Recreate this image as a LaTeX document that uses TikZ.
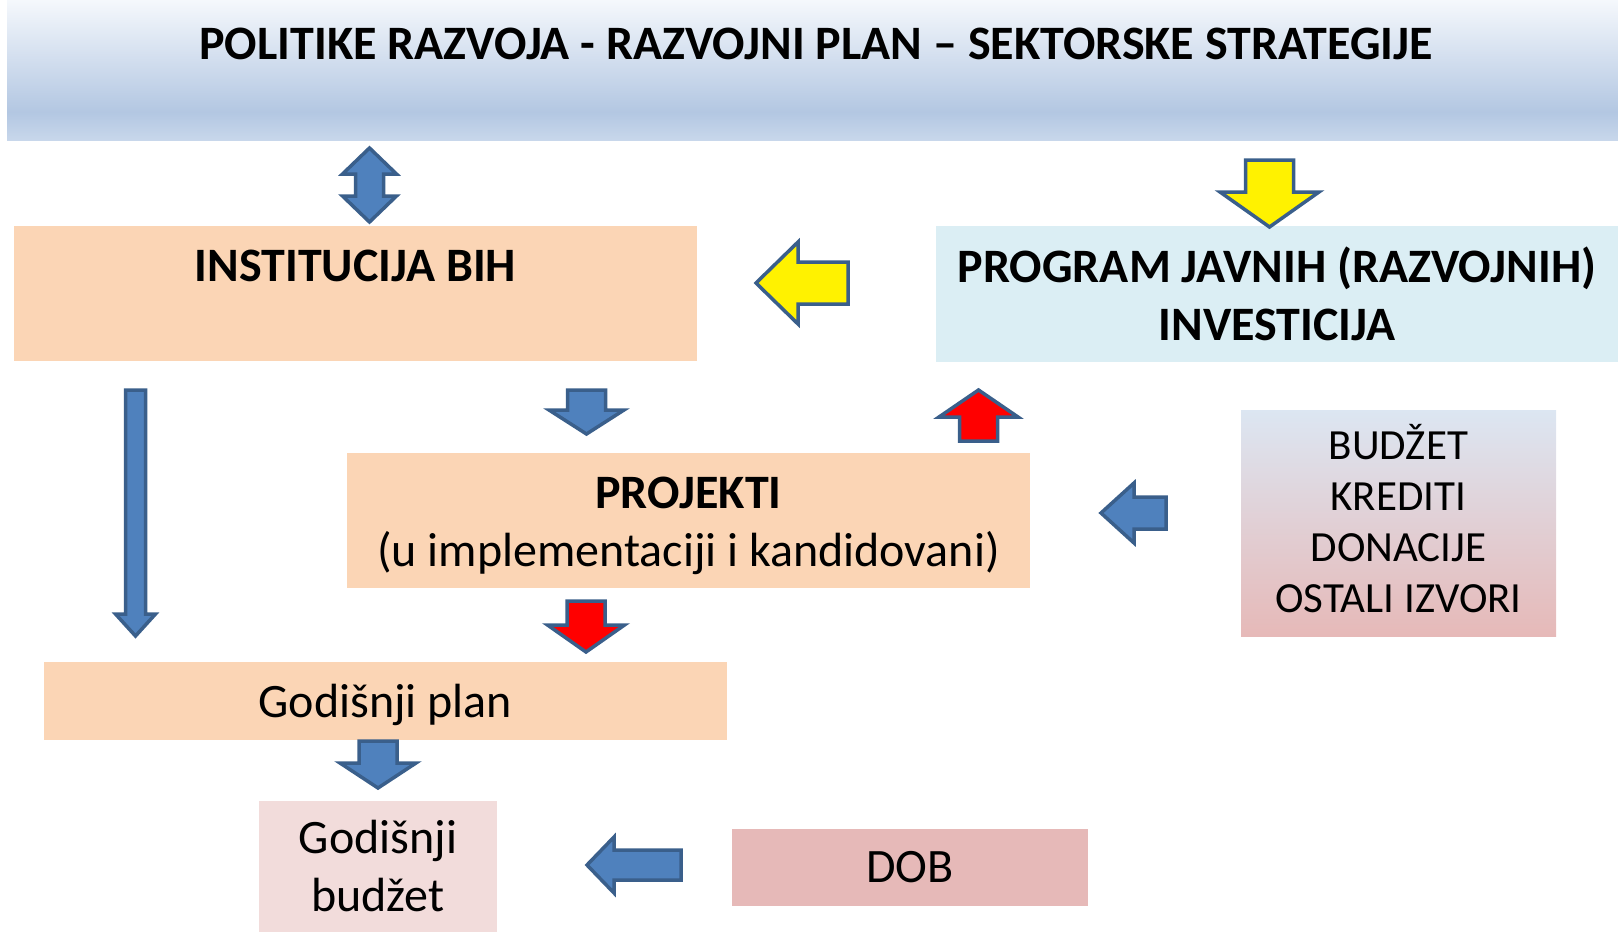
\documentclass[tikz,border=0pt]{standalone}
\usepackage{fontspec}
\setmainfont{Carlito}
\definecolor{boxorange}{HTML}{FBD5B5}
\definecolor{boxcyan}{HTML}{DBEEF4}
\definecolor{boxpink}{HTML}{F2DCDB}
\definecolor{boxrose}{HTML}{E6B9B8}
\definecolor{srctop}{HTML}{DCE6F2}
\definecolor{bantop}{HTML}{F5F8FC}
\definecolor{banmid}{HTML}{B3C7E2}
\definecolor{banbot}{HTML}{C8D7EB}
\definecolor{arrblue}{HTML}{4F81BD}
\definecolor{arredge}{HTML}{3A5F8B}
% tip, direction, length, head length, head half width, shaft half width
\newcommand{\blkarrow}[7]{%
  \draw[myarrow,fill=#1,shift={(#2)},rotate=#3]
    (0,0) -- (-#5,#6) -- (-#5,#7) -- (-#4,#7) -- (-#4,-#7)
    -- (-#5,-#7) -- (-#5,-#6) -- cycle;}

\begin{document}
\begin{tikzpicture}[x=1pt,y=-1pt]
	\tikzset{mybox/.style={rectangle,inner sep=0pt,align=center,
			font=\fontsize{48}{58}\selectfont},
		myarrow/.style={draw=arredge,line width=3.5pt,line join=miter}}
	\useasboundingbox (0,0) rectangle (1618,932);
	% banner
	\shade[top color=bantop,bottom color=banmid] (7,0) rectangle (1618,112);
	\shade[top color=banmid,bottom color=banbot] (7,112) rectangle (1618,140);
	\node[mybox,font=\fontsize{48}{58}\selectfont\bfseries] (title) at (816,44)
	{POLITIKE RAZVOJA - RAZVOJNI PLAN -- SEKTORSKE STRATEGIJE};
	% boxes
	\node[mybox,fill=boxorange,minimum width=683,minimum height=135] (inst) at (355.5,293.5) {};
	\node[mybox,font=\fontsize{48}{58}\selectfont\bfseries] (insttext) at (355.5,266) {INSTITUCIJA BIH};
	\node[mybox,fill=boxcyan,minimum width=682,minimum height=136,
	font=\fontsize{48}{58}\selectfont\bfseries] (pji) at (1277,294)
	{PROGRAM JAVNIH (RAZVOJNIH)\\INVESTICIJA};
	\node[mybox,fill=boxorange,minimum width=683,minimum height=135] (proj) at (688.5,520.5) {};
	\node[mybox] (projtext) at (688.5,526)
	{\textbf{PROJEKTI}\\(u implementaciji i kandidovani)};
	\node[mybox,top color=srctop,bottom color=boxrose,minimum width=315,minimum height=226] (src) at (1398.5,523) {};
	\node[mybox,font=\fontsize{43}{51}\selectfont] (srctext) at (1398.5,519)
	{BUDŽET\\KREDITI\\DONACIJE\\OSTALI IZVORI};
	\node[mybox,fill=boxorange,minimum width=683,minimum height=78] (plan) at (385.5,701) {};
	\node[mybox] (plantext) at (385.5,705) {Godišnji plan};
	\node[mybox,fill=boxpink,minimum width=238,minimum height=131] (bud) at (378,866.5) {Godišnji\\budžet};
	\node[mybox,fill=boxrose,minimum width=356,minimum height=77] (dob) at (910,867.5) {DOB};
	% arrow tips
	\coordinate (instdown) at (135.5,636);
	\coordinate (projdown) at (586.5,434);
	\coordinate (projup) at (978.5,390);
	\coordinate (pjidown) at (1269.5,227);
	\coordinate (pjileft) at (756,283);
	\coordinate (srcleft) at (1101,513);
	\coordinate (plandown) at (586,652);
	\coordinate (buddown) at (378,788);
	\coordinate (dobleft) at (587,865);
	% double arrow under banner
	\draw[myarrow,fill=arrblue] (369.5,148) -- (396.5,174) -- (383.5,174) -- (383.5,196)
	-- (396.5,196) -- (369.5,222) -- (342.5,196) -- (355.5,196) -- (355.5,174)
	-- (342.5,174) -- cycle;
	\blkarrow{arrblue}{instdown}{270}{246}{22}{20}{10}
	\blkarrow{arrblue}{projdown}{270}{44}{24}{37.5}{19}
	\blkarrow{red}{projup}{90}{51}{27}{39.5}{19}
	\blkarrow{yellow}{pjidown}{270}{67}{35}{49.5}{24}
	\blkarrow{yellow}{pjileft}{180}{92}{42}{41}{21}
	\blkarrow{arrblue}{srcleft}{180}{65}{33}{30}{16}
	\blkarrow{red}{plandown}{270}{51}{27}{38.5}{19}
	\blkarrow{arrblue}{buddown}{270}{47}{25}{38}{19}
	\blkarrow{arrblue}{dobleft}{180}{94}{27}{28}{15}
\end{tikzpicture}
\end{document}
